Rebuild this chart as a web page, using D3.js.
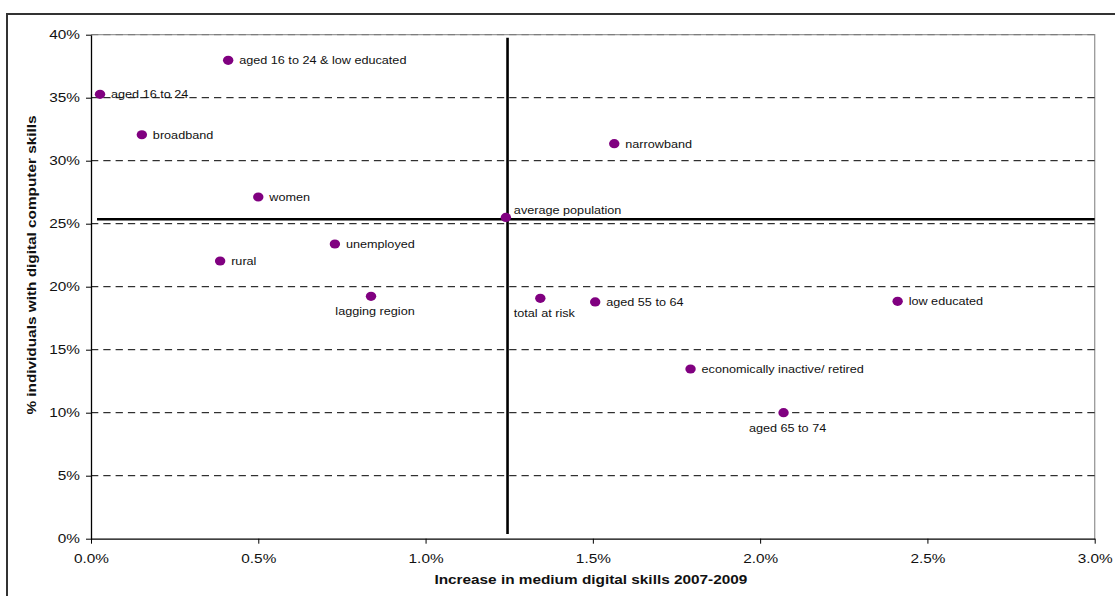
<!DOCTYPE html>
<html>
<head>
<meta charset="utf-8">
<script src="https://cdn.jsdelivr.net/npm/d3@7"></script>
<style>
  html, body { margin: 0; padding: 0; background: #fff; }
  svg { display: block; font-family: "Liberation Sans", Arial, sans-serif; }
</style>
</head>
<body>
<svg id="chart" width="1115" height="596"></svg>
<script>
// ---- data ----
const groups = [
  "aged 16 to 24 & low educated", "aged 16 to 24", "broadband", "women",
  "narrowband", "average population", "unemployed", "rural",
  "lagging region", "total at risk", "aged 55 to 64", "low educated",
  "economically inactive/ retired", "aged 65 to 74"
];
const increaseMedium = [0.41, 0.027, 0.152, 0.50, 1.564, 1.24, 0.729, 0.386, 0.837, 1.343, 1.507, 2.411, 1.792, 2.07];
const digitalSkills  = [37.97, 35.27, 32.06, 27.12, 31.35, 25.5, 23.39, 22.04, 19.24, 19.08, 18.79, 18.84, 13.47, 10.0];
const labelPlacement = ["right", "right", "right", "right", "right", "upright", "right", "right", "below", "below", "right", "right", "right", "below"];

const avgX = 1.245, avgY = 25.35;
const hLineX = [0.018, 3.0];
const vLineY = [39.76, 0.37];

const xTicks = [0, 0.5, 1.0, 1.5, 2.0, 2.5, 3.0];
const yTicks = [0, 5, 10, 15, 20, 25, 30, 35, 40];
const xTitle = "Increase in medium digital skills 2007-2009";
const yTitle = "% individuals with digital computer skills";

// ---- layout ----
(function () {
const svg = d3.select("#chart");
const pL = 91, pR = 1094.7, pT = 34.7, pB = 538.7;
const SX = 1.28; // horizontal stretch of axis text

const x = d3.scaleLinear().domain([0, 3]).range([pL, pR]);
const y = d3.scaleLinear().domain([0, 40]).range([pB, pT]);

// outer frame
svg.append("rect")
  .attr("x", 7).attr("y", 14).attr("width", 1130).attr("height", 620)
  .attr("fill", "none").attr("stroke", "#333").attr("stroke-width", 2);

// plot border (gray) top & right
svg.append("path")
  .attr("d", `M${pL},${pT}H${pR}V${pB}`)
  .attr("fill", "none").attr("stroke", "#999").attr("stroke-width", 1.3);

// gridlines
svg.append("g").selectAll("line")
  .data(yTicks.filter(d => d > 0))
  .join("line")
  .attr("x1", pL).attr("x2", pR)
  .attr("y1", d => y(d)).attr("y2", d => y(d))
  .attr("stroke", d => d === 40 ? "#777" : "#000")
  .attr("stroke-width", 1)
  .attr("stroke-dasharray", "7.3,5");

// axes
const xAxis = svg.append("g")
  .attr("transform", `translate(0,${pB})`)
  .call(d3.axisBottom(x).tickValues(xTicks).tickSize(5).tickSizeOuter(0)
    .tickFormat(d => d3.format(".1f")(d) + "%"));
const yAxis = svg.append("g")
  .attr("transform", `translate(${pL},0)`)
  .call(d3.axisLeft(y).tickValues(yTicks).tickSize(5).tickSizeOuter(0)
    .tickFormat(d => d + "%"));

[xAxis, yAxis].forEach(a => {
  a.select(".domain").attr("stroke", "#000").attr("stroke-width", 1.3);
  a.selectAll(".tick line").attr("stroke", "#000").attr("stroke-width", 1);
  a.selectAll(".tick text")
    .attr("fill", "#111")
    .style("font-size", "12px")
    .style("font-family", "Liberation Sans, Arial, sans-serif");
});
xAxis.selectAll(".tick text").attr("y", 15.5).attr("transform", `scale(${SX},1)`);
yAxis.selectAll(".tick text").attr("x", -11 / SX).attr("transform", `scale(${SX},1)`);

// axis titles
svg.append("text")
  .attr("transform", `translate(${(pL + pR) / 2 - 2},584) scale(${SX},1)`)
  .attr("text-anchor", "middle")
  .style("font-size", "12px").style("font-weight", "bold").attr("fill", "#111")
  .text(xTitle);
svg.append("text")
  .attr("transform", `translate(36,${(115 + 415) / 2}) rotate(-90) scale(${SX},1)`)
  .attr("text-anchor", "middle")
  .style("font-size", "12px").style("font-weight", "bold").attr("fill", "#111")
  .text(yTitle);

// average lines
const line = d3.line().x(d => x(d[0])).y(d => y(d[1]));
svg.append("path")
  .attr("d", line(hLineX.map(v => [v, avgY])))
  .attr("stroke", "#000").attr("stroke-width", 2.6).attr("fill", "none");
svg.append("path")
  .attr("d", line(vLineY.map(v => [avgX, v])))
  .attr("stroke", "#000").attr("stroke-width", 2.6).attr("fill", "none");

// points
const pts = groups.map((g, i) => ({ g, xv: increaseMedium[i], yv: digitalSkills[i], pos: labelPlacement[i] }));
svg.append("g").selectAll("ellipse")
  .data(pts)
  .join("ellipse")
  .attr("cx", d => x(d.xv)).attr("cy", d => y(d.yv))
  .attr("rx", 5.2).attr("ry", 4.6)
  .attr("fill", "#800080");

// labels
const LSX = 1.15;
svg.append("g").selectAll("text")
  .data(pts)
  .join("text")
  .attr("transform", d => {
    const px = x(d.xv), py = y(d.yv);
    if (d.pos === "below") return `translate(${px + 4},${py + 19}) scale(${LSX},1)`;
    if (d.pos === "upright") return `translate(${px + 8},${py - 3}) scale(${LSX},1)`;
    return `translate(${px + 11},${py + 4}) scale(${LSX},1)`;
  })
  .attr("text-anchor", d => d.pos === "below" ? "middle" : "start")
  .style("font-size", "11px").attr("fill", "#111")
  .text(d => d.g);
})();
</script>
</body>
</html>
